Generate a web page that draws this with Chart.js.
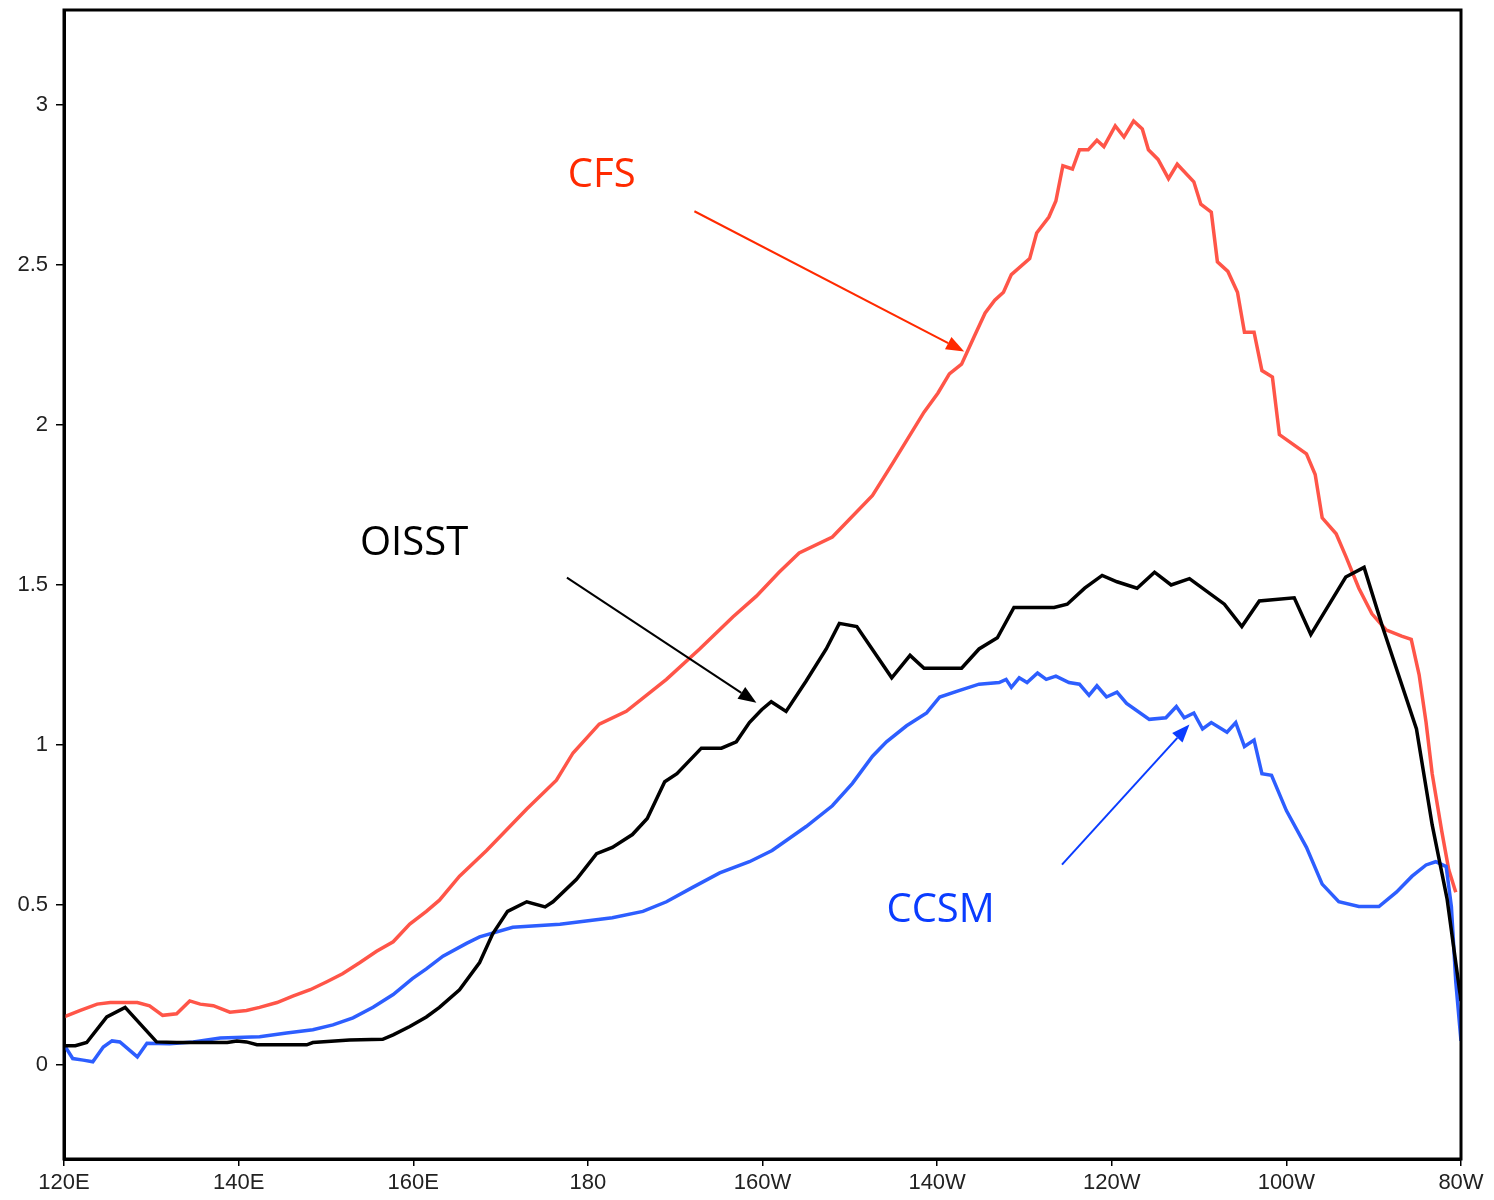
<!DOCTYPE html>
<html>
<head>
<meta charset="utf-8">
<script src="https://cdn.jsdelivr.net/npm/chart.js@4.4.1/dist/chart.umd.min.js"></script>
<style>
  html, body { margin: 0; padding: 0; background: #fff; }
  canvas { display: block; }
</style>
</head>
<body>
<canvas id="chart" width="1494" height="1200"></canvas>
<script>
// longitude runs 120 (120E) .. 280 (80W)
const xTickValues = [120, 140, 160, 180, 200, 220, 240, 260, 280];
const xTickLabels = ["120E", "140E", "160E", "180", "160W", "140W", "120W", "100W", "80W"];
const yTickValues = [0, 0.5, 1, 1.5, 2, 2.5, 3];
const yTickLabels = ["0", "0.5", "1", "1.5", "2", "2.5", "3"];

const cfsLon = [120, 121.8, 123.8, 125.3, 128.4, 129.8, 131.3, 132.9, 134.4, 135.6, 137.1, 139.0, 140.9, 142.4,
  144.4, 146.2, 148.2, 150.1, 151.9, 153.9, 155.8, 157.7, 159.6, 161.5, 163.0, 165.3, 168.4, 173.0, 176.4,
  178.3, 181.3, 184.4, 189.0, 192.8, 196.6, 199.3, 201.9, 204.2, 208.0, 212.6, 214.9, 218.5, 220.1, 221.4,
  222.8, 224.3, 225.5, 226.6, 227.6, 228.5, 230.6, 231.4, 232.8, 233.6, 234.4, 235.5, 236.3, 237.3, 238.3,
  239.1, 240.4, 241.4, 242.5, 243.5, 244.2, 245.3, 246.5, 247.5, 249.4, 250.2, 251.4, 252.1, 253.3, 254.4,
  255.2, 256.3, 257.2, 258.4, 259.2, 262.3, 263.3, 264.1, 265.7, 266.8, 268.3, 269.8, 271.4, 273.2, 274.3,
  275.2, 276.0, 276.7, 277.8, 278.6, 279.4];
const cfsVal = [0.15, 0.17, 0.19, 0.195, 0.195, 0.185, 0.155, 0.16, 0.20, 0.19, 0.185, 0.165, 0.17, 0.18,
  0.195, 0.215, 0.235, 0.26, 0.285, 0.32, 0.355, 0.385, 0.44, 0.48, 0.515, 0.59, 0.67, 0.80, 0.89,
  0.975, 1.065, 1.105, 1.205, 1.30, 1.40, 1.465, 1.54, 1.60, 1.65, 1.78, 1.88, 2.04, 2.10, 2.16,
  2.19, 2.28, 2.35, 2.39, 2.415, 2.47, 2.52, 2.60, 2.65, 2.70, 2.81, 2.80, 2.86, 2.86, 2.89,
  2.87, 2.935, 2.90, 2.95, 2.925, 2.86, 2.83, 2.77, 2.815, 2.76, 2.69, 2.665, 2.51, 2.48, 2.415,
  2.29, 2.29, 2.17, 2.15, 1.97, 1.91, 1.845, 1.71, 1.66, 1.59, 1.49, 1.41, 1.36, 1.34, 1.33,
  1.22, 1.07, 0.91, 0.73, 0.61, 0.54];

const oisstLon = [120, 121.3, 122.6, 124.9, 127.0, 130.6, 132.9, 138.7, 139.8, 140.9, 142.1, 147.8, 148.5,
  152.7, 156.5, 157.7, 159.6, 161.5, 163.0, 165.3, 167.6, 169.1, 170.8, 173.0, 175.1, 176.0, 178.7,
  181.0, 182.8, 185.1, 186.8, 188.8, 190.2, 193.0, 195.3, 197.0, 198.5, 199.9, 201.0, 202.7, 205.0,
  207.3, 208.8, 210.8, 214.8, 216.9, 218.5, 222.8, 224.8, 226.9, 228.8, 233.4, 234.9, 236.9, 238.9,
  240.6, 242.9, 244.9, 246.8, 248.9, 252.9, 254.9, 256.9, 260.9, 262.8, 266.8, 268.9, 271.0, 274.9,
  276.7, 278.4, 280];
const oisstVal = [0.06, 0.06, 0.07, 0.15, 0.18, 0.072, 0.07, 0.07, 0.075, 0.072, 0.063, 0.063, 0.07,
  0.078, 0.08, 0.094, 0.12, 0.15, 0.18, 0.235, 0.32, 0.41, 0.48, 0.51, 0.494, 0.51, 0.58,
  0.66, 0.68, 0.72, 0.77, 0.885, 0.91, 0.99, 0.99, 1.01, 1.07, 1.11, 1.135, 1.105, 1.2,
  1.3, 1.38, 1.37, 1.21, 1.28, 1.24, 1.24, 1.30, 1.335, 1.43, 1.43, 1.44, 1.49, 1.53,
  1.51, 1.49, 1.54, 1.50, 1.52, 1.44, 1.37, 1.45, 1.46, 1.345, 1.525, 1.555, 1.37, 1.05,
  0.75, 0.52, 0.2];

const ccsmLon = [120, 121.0, 122.2, 123.3, 124.5, 125.5, 126.4, 128.4, 129.5, 132.1, 134.8, 137.9, 142.4,
  145.5, 148.5, 150.8, 153.1, 155.4, 157.7, 159.9, 161.5, 163.4, 166.1, 167.6, 171.4, 176.8, 182.8,
  186.3, 189.0, 192.0, 195.1, 198.5, 201.1, 205.0, 208.0, 210.3, 212.6, 214.2, 216.5, 218.8, 220.3,
  222.5, 224.8, 227.1, 227.9, 228.5, 229.4, 230.3, 231.5, 232.5, 233.6, 235.1, 236.3, 237.4, 238.3,
  239.4, 240.6, 241.7, 244.3, 246.2, 247.4, 248.3, 249.4, 250.4, 251.4, 253.2, 254.2, 255.2, 256.3,
  257.2, 258.3, 260.0, 262.3, 264.1, 266.0, 268.3, 270.6, 272.6, 274.4, 276.0, 277.1, 278.3, 278.9,
  279.4, 280];
const ccsmVal = [0.063, 0.02, 0.015, 0.01, 0.056, 0.075, 0.072, 0.025, 0.068, 0.066, 0.072, 0.084, 0.088,
  0.10, 0.11, 0.125, 0.147, 0.18, 0.22, 0.27, 0.30, 0.34, 0.38, 0.40, 0.43, 0.44, 0.46,
  0.48, 0.51, 0.555, 0.60, 0.635, 0.67, 0.745, 0.81, 0.88, 0.965, 1.01, 1.06, 1.10, 1.15,
  1.17, 1.19, 1.195, 1.205, 1.18, 1.21, 1.195, 1.225, 1.205, 1.215, 1.195, 1.19, 1.155, 1.185,
  1.15, 1.165, 1.13, 1.08, 1.085, 1.12, 1.085, 1.10, 1.05, 1.07, 1.04, 1.07, 0.995, 1.015,
  0.91, 0.905, 0.795, 0.68, 0.565, 0.51, 0.495, 0.495, 0.54, 0.59, 0.625, 0.635, 0.62, 0.495,
  0.26, 0.075];

// labels and arrows, in data units
const notes = [
  { text: "CFS", color: "#ff2a00", at: [177.7, 2.744], from: [192.2, 2.668], to: [223.1, 2.23] },
  { text: "OISST", color: "#000000", at: [153.9, 1.594], from: [177.6, 1.523], to: [199.3, 1.132] },
  { text: "CCSM", color: "#0a3cff", at: [214.2, 0.447], from: [234.3, 0.626], to: [248.9, 1.064] }
];

function toPoints(xs, ys) {
  return xs.map((x, i) => ({ x: x, y: ys[i] }));
}

const frameAndNotes = {
  id: "frameAndNotes",
  afterDatasetsDraw(chart) {
    const ctx = chart.ctx;
    const a = chart.chartArea;
    const sx = chart.scales.x, sy = chart.scales.y;
    ctx.save();
    ctx.strokeStyle = "#000";
    ctx.lineWidth = 3;
    ctx.strokeRect(a.left, a.top, a.right - a.left, a.bottom - a.top);

    notes.forEach(n => {
      ctx.fillStyle = n.color;
      ctx.strokeStyle = n.color;
      ctx.font = "40px 'Open Sans', 'Noto Sans', sans-serif";
      ctx.textAlign = "left";
      ctx.textBaseline = "alphabetic";
      ctx.fillText(n.text, sx.getPixelForValue(n.at[0]), sy.getPixelForValue(n.at[1]));

      const x1 = sx.getPixelForValue(n.from[0]), y1 = sy.getPixelForValue(n.from[1]);
      const x2 = sx.getPixelForValue(n.to[0]), y2 = sy.getPixelForValue(n.to[1]);
      const ang = Math.atan2(y2 - y1, x2 - x1);
      const head = 18, half = 7;
      const bx = x2 - head * Math.cos(ang), by = y2 - head * Math.sin(ang);
      ctx.lineWidth = 2;
      ctx.beginPath();
      ctx.moveTo(x1, y1);
      ctx.lineTo(bx, by);
      ctx.stroke();
      ctx.beginPath();
      ctx.moveTo(x2, y2);
      ctx.lineTo(bx + half * Math.sin(ang), by - half * Math.cos(ang));
      ctx.lineTo(bx - half * Math.sin(ang), by + half * Math.cos(ang));
      ctx.closePath();
      ctx.fill();
    });
    ctx.restore();
  }
};

const lineStyle = { borderWidth: 3.5, pointRadius: 0, tension: 0, fill: false };

new Chart(document.getElementById("chart"), {
  type: "line",
  data: {
    datasets: [
      { label: "OISST", data: toPoints(oisstLon, oisstVal), borderColor: "#000000", order: 0, ...lineStyle },
      { label: "CCSM", data: toPoints(ccsmLon, ccsmVal), borderColor: "#2d5eff", order: 1, ...lineStyle },
      { label: "CFS", data: toPoints(cfsLon, cfsVal), borderColor: "#ff5548", order: 2, ...lineStyle }
    ]
  },
  options: {
    responsive: false,
    animation: false,
    layout: { padding: { top: 10, right: 33, left: 0, bottom: 0 } },
    plugins: { legend: { display: false }, tooltip: { enabled: false } },
    scales: {
      x: {
        type: "linear",
        min: 120,
        max: 280,
        afterBuildTicks: s => { s.ticks = xTickValues.map(v => ({ value: v })); },
        afterFit: s => { s.height = 41; s.paddingLeft = 0; s.paddingRight = 0; },
        ticks: {
          color: "#222",
          font: { family: "'Liberation Sans', sans-serif", size: 22 },
          padding: 4,
          maxRotation: 0,
          autoSkip: false,
          callback: v => xTickLabels[xTickValues.indexOf(v)]
        },
        grid: { drawOnChartArea: false, drawTicks: true, tickLength: 7, color: "#000", lineWidth: 1.5 },
        border: { display: true, color: "#000", width: 3 }
      },
      y: {
        min: -0.294,
        max: 3.297,
        afterBuildTicks: s => { s.ticks = yTickValues.map(v => ({ value: v })); },
        afterFit: s => { s.width = 64; s.paddingTop = 0; s.paddingBottom = 0; },
        ticks: {
          color: "#222",
          font: { family: "'Liberation Sans', sans-serif", size: 22 },
          padding: 8,
          autoSkip: false,
          callback: v => yTickLabels[yTickValues.indexOf(v)]
        },
        grid: { drawOnChartArea: false, drawTicks: true, tickLength: 8, color: "#000", lineWidth: 1.5 },
        border: { display: true, color: "#000", width: 3 }
      }
    }
  },
  plugins: [frameAndNotes]
});
</script>
</body>
</html>
